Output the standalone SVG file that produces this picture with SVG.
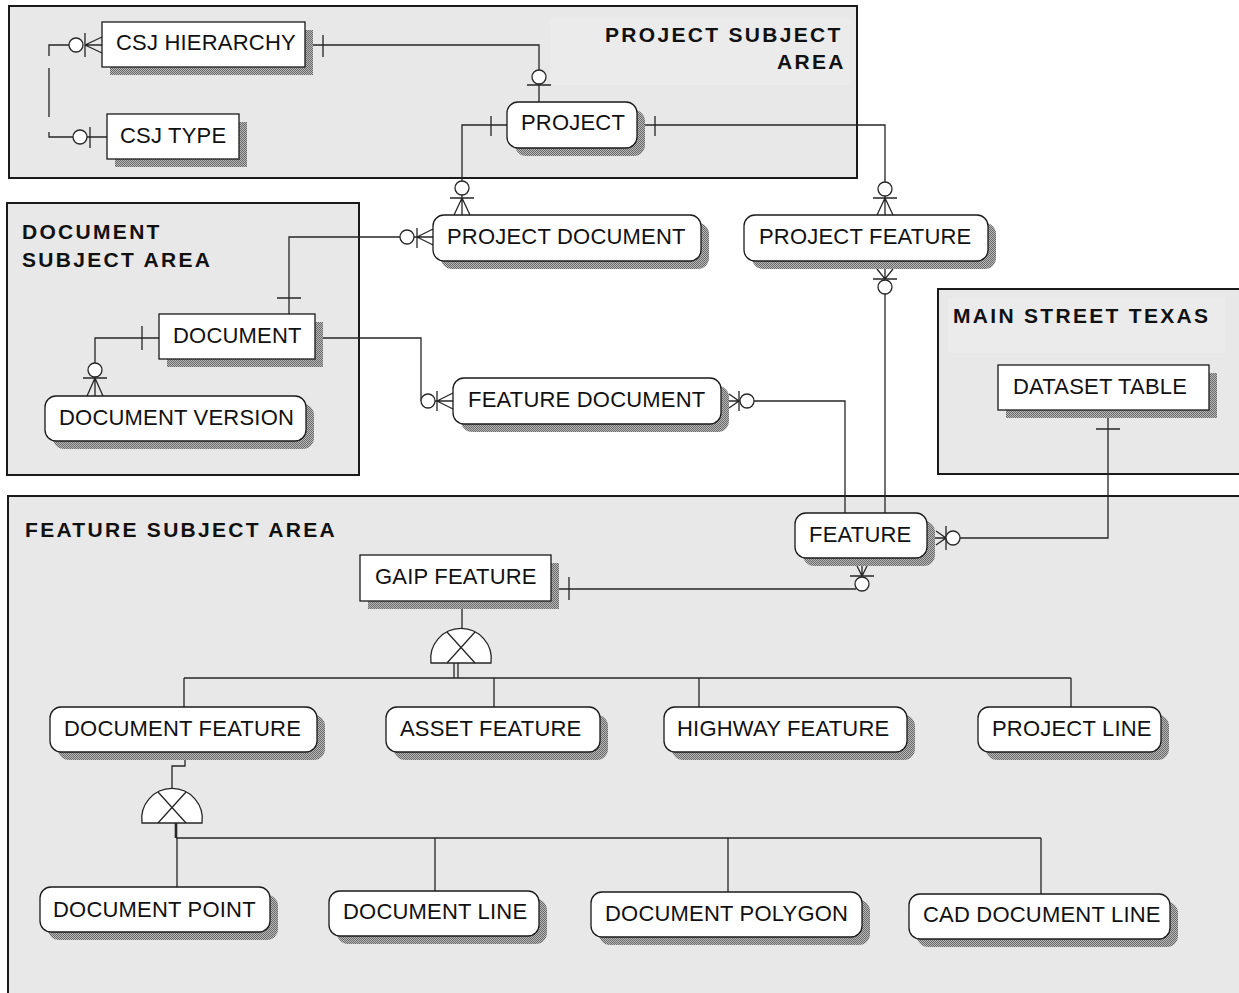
<svg xmlns="http://www.w3.org/2000/svg" width="1239" height="993" viewBox="0 0 1239 993">
  <defs>
    <!-- dotted drop shadow fill -->
    <pattern id="dither" width="2" height="2" patternUnits="userSpaceOnUse">
      <rect width="2" height="2" fill="#b8b8b8"/>
      <rect width="1" height="1" fill="#6a6a6a"/>
      <rect x="1" y="1" width="1" height="1" fill="#6a6a6a"/>
    </pattern>
    <style>
      .area { fill: #e8e8e8; stroke: #1a1a1a; stroke-width: 2; }
      .titlebg { fill: #ebebeb; stroke: none; }
      .title { font-family: "Liberation Sans", Arial, sans-serif; font-weight: bold; font-size: 21px; letter-spacing: 2.3px; fill: #111; }
      .shadow { fill: url(#dither); stroke: none; }
      .box { fill: #ffffff; stroke: #1a1a1a; stroke-width: 1.3; }
      .label { font-family: "Liberation Sans", Arial, sans-serif; font-size: 22px; letter-spacing: 0.2px; fill: #111; }
      .rel { fill: none; stroke: #262626; stroke-width: 1.3; }
      .opt { fill: #ffffff; stroke: #262626; stroke-width: 1.3; }
      .sub { fill: #ffffff; stroke: #262626; stroke-width: 1.3; }
    </style>
  </defs>

  <rect width="1239" height="993" fill="#ffffff"/>

  <!-- subject areas -->
  <g id="area-project">
    <rect class="area" x="9" y="6" width="848" height="172"/>
    <rect class="titlebg" x="550" y="18" width="300" height="67"/>
    <text class="title" x="605" y="42">PROJECT SUBJECT</text>
    <text class="title" x="777" y="69">AREA</text>
  </g>
  <g id="area-document">
    <rect class="area" x="7" y="203" width="352" height="272"/>
    <text class="title" x="22" y="239">DOCUMENT</text>
    <text class="title" x="22" y="267">SUBJECT AREA</text>
  </g>
  <g id="area-main-street">
    <rect class="area" x="938" y="289" width="310" height="185"/>
    <rect class="titlebg" x="948" y="298" width="277" height="55"/>
    <text class="title" x="953" y="323">MAIN STREET TEXAS</text>
  </g>
  <g id="area-feature">
    <rect class="area" x="8" y="496" width="1240" height="510"/>
    <text class="title" x="25" y="537">FEATURE SUBJECT AREA</text>
  </g>

  <!-- relationships and subtype clusters -->
  <g id="connectors">
    <!-- CSJ HIERARCHY - CSJ TYPE (non-identifying) -->
    <path class="rel" d="M69,45 H49 V56 M49,68 V117 M49,132 V137 H73 M87,137 H107"/>
    <path class="rel" d="M85,33 V57 M85,45 H102 M85,45 L102,37 M85,45 L102,53"/>
    <circle class="opt" cx="76" cy="45" r="7"/>
    <path class="rel" d="M90,127 V148"/>
    <circle class="opt" cx="80" cy="137" r="7"/>

    <!-- CSJ HIERARCHY - PROJECT -->
    <path class="rel" d="M305,45 H539 V70 M539,84 V102 M323,35 V57 M527,85 H551"/>
    <circle class="opt" cx="539" cy="77" r="7"/>

    <!-- PROJECT - PROJECT DOCUMENT -->
    <path class="rel" d="M507,125 H462 V181 M462,195 V215 M491,116 V136 M450,198 H474 M462,198 L454,215 M462,198 L470,215"/>
    <circle class="opt" cx="462" cy="188" r="7"/>

    <!-- PROJECT - PROJECT FEATURE -->
    <path class="rel" d="M637,125 H885 V182 M885,196 V215 M655,116 V136 M873,198 H897 M885,198 L877,215 M885,198 L893,215"/>
    <circle class="opt" cx="885" cy="189" r="7"/>

    <!-- DOCUMENT - PROJECT DOCUMENT -->
    <path class="rel" d="M289,314 V237 H400 M414,237 H433 M277,298 H301 M417,228 V248 M417,237 L433,229 M417,237 L433,245"/>
    <circle class="opt" cx="407" cy="237" r="7"/>

    <!-- DOCUMENT - DOCUMENT VERSION -->
    <path class="rel" d="M159,338 H95 V363 M95,377 V396 M142,326 V350 M83,378 H107 M95,378 L87,396 M95,378 L103,396"/>
    <circle class="opt" cx="95" cy="370" r="7"/>

    <!-- DOCUMENT - FEATURE DOCUMENT -->
    <path class="rel" d="M315,338 H421 V401 M435,401 H453 M437,391 V411 M437,401 L453,393 M437,401 L453,409"/>
    <circle class="opt" cx="428" cy="401" r="7"/>

    <!-- FEATURE DOCUMENT - FEATURE -->
    <path class="rel" d="M721,401 H739 M729,394 L739,401 L729,408 M739,391 V411 M754,401 H845 V513"/>
    <circle class="opt" cx="747" cy="401" r="7"/>

    <!-- PROJECT FEATURE - FEATURE -->
    <path class="rel" d="M885,261 V279 M877,269 L885,279 L893,269 M873,279 H897 M885,294 V513"/>
    <circle class="opt" cx="885" cy="287" r="7"/>

    <!-- DATASET TABLE - FEATURE -->
    <path class="rel" d="M1108,410 V538 H960 M1096,429 H1120 M927,538 H946 M936,531 L946,538 L936,545 M946,526 V550"/>
    <circle class="opt" cx="953" cy="538" r="7"/>

    <!-- GAIP FEATURE - FEATURE -->
    <path class="rel" d="M551,589 H856 M569,577 V600 M862,558 V576 M857,566 L862,576 L867,566 M850,576 H874"/>
    <circle class="opt" cx="862" cy="584" r="7"/>

    <!-- GAIP FEATURE subtype cluster -->
    <path class="rel" d="M462,601 V629"/>
    <path class="sub" d="M431,663 A30.3,30.3 0 1 1 491,663 Z"/>
    <path class="rel" d="M447,632 L475,663 M475,632 L447,663"/>
    <path class="rel" d="M454,663 V678 M458,663 V678"/>
    <path class="rel" d="M184,678 H1071 M184,678 V707 M494,678 V707 M699,678 V707 M1071,678 V707"/>

    <!-- DOCUMENT FEATURE subtype cluster -->
    <path class="rel" d="M185,752 V766 H172 V789"/>
    <path class="sub" d="M142,823 A30.3,30.3 0 1 1 202,823 Z"/>
    <path class="rel" d="M158,792 L186,823 M186,792 L158,823"/>
    <path class="rel" style="stroke-width:2.6" d="M176,823 V838"/>
    <path class="rel" style="stroke-width:1.6" d="M176,838 H1041"/>
    <path class="rel" d="M177,838 V887 M435,838 V891 M728,838 V892 M1041,838 V894"/>
  </g>

  <!-- entities -->
  <g id="csj-hierarchy">
    <rect class="shadow" x="110" y="30" width="203" height="45"/>
    <rect class="box" x="102" y="22" width="203" height="45"/>
    <text class="label" x="116" y="50">CSJ HIERARCHY</text>
  </g>
  <g id="csj-type">
    <rect class="shadow" x="115" y="122" width="132" height="45"/>
    <rect class="box" x="107" y="114" width="132" height="45"/>
    <text class="label" x="120" y="143">CSJ TYPE</text>
  </g>
  <g id="project">
    <rect class="shadow" x="515" y="110" width="130" height="46" rx="11"/>
    <rect class="box" x="507" y="102" width="130" height="46" rx="11"/>
    <text class="label" x="521" y="130">PROJECT</text>
  </g>
  <g id="project-document">
    <rect class="shadow" x="441" y="223" width="268" height="46" rx="11"/>
    <rect class="box" x="433" y="215" width="268" height="46" rx="11"/>
    <text class="label" x="447" y="244">PROJECT DOCUMENT</text>
  </g>
  <g id="project-feature">
    <rect class="shadow" x="752" y="223" width="244" height="46" rx="11"/>
    <rect class="box" x="744" y="215" width="244" height="46" rx="11"/>
    <text class="label" x="759" y="244">PROJECT FEATURE</text>
  </g>
  <g id="document">
    <rect class="shadow" x="167" y="322" width="156" height="45"/>
    <rect class="box" x="159" y="314" width="156" height="45"/>
    <text class="label" x="173" y="343">DOCUMENT</text>
  </g>
  <g id="document-version">
    <rect class="shadow" x="53" y="404" width="261" height="45" rx="11"/>
    <rect class="box" x="45" y="396" width="261" height="45" rx="11"/>
    <text class="label" x="59" y="425">DOCUMENT VERSION</text>
  </g>
  <g id="feature-document">
    <rect class="shadow" x="461" y="386" width="268" height="46" rx="11"/>
    <rect class="box" x="453" y="378" width="268" height="46" rx="11"/>
    <text class="label" x="468" y="407">FEATURE DOCUMENT</text>
  </g>
  <g id="dataset-table">
    <rect class="shadow" x="1006" y="373" width="211" height="45"/>
    <rect class="box" x="998" y="365" width="211" height="45"/>
    <text class="label" x="1013" y="394">DATASET TABLE</text>
  </g>
  <g id="feature">
    <rect class="shadow" x="803" y="521" width="132" height="45" rx="11"/>
    <rect class="box" x="795" y="513" width="132" height="45" rx="11"/>
    <text class="label" x="809" y="542">FEATURE</text>
  </g>
  <g id="gaip-feature">
    <rect class="shadow" x="368" y="563" width="191" height="46"/>
    <rect class="box" x="360" y="555" width="191" height="46"/>
    <text class="label" x="375" y="584">GAIP FEATURE</text>
  </g>
  <g id="document-feature">
    <rect class="shadow" x="58" y="715" width="267" height="45" rx="11"/>
    <rect class="box" x="50" y="707" width="267" height="45" rx="11"/>
    <text class="label" x="64" y="736">DOCUMENT FEATURE</text>
  </g>
  <g id="asset-feature">
    <rect class="shadow" x="394" y="715" width="214" height="45" rx="11"/>
    <rect class="box" x="386" y="707" width="214" height="45" rx="11"/>
    <text class="label" x="400" y="736">ASSET FEATURE</text>
  </g>
  <g id="highway-feature">
    <rect class="shadow" x="672" y="715" width="243" height="45" rx="11"/>
    <rect class="box" x="664" y="707" width="243" height="45" rx="11"/>
    <text class="label" x="677" y="736">HIGHWAY FEATURE</text>
  </g>
  <g id="project-line">
    <rect class="shadow" x="986" y="715" width="183" height="45" rx="11"/>
    <rect class="box" x="978" y="707" width="183" height="45" rx="11"/>
    <text class="label" x="992" y="736">PROJECT LINE</text>
  </g>
  <g id="document-point">
    <rect class="shadow" x="48" y="895" width="230" height="45" rx="11"/>
    <rect class="box" x="40" y="887" width="230" height="45" rx="11"/>
    <text class="label" x="53" y="917">DOCUMENT POINT</text>
  </g>
  <g id="document-line">
    <rect class="shadow" x="337" y="899" width="210" height="45" rx="11"/>
    <rect class="box" x="329" y="891" width="210" height="45" rx="11"/>
    <text class="label" x="343" y="919">DOCUMENT LINE</text>
  </g>
  <g id="document-polygon">
    <rect class="shadow" x="599" y="900" width="271" height="45" rx="11"/>
    <rect class="box" x="591" y="892" width="271" height="45" rx="11"/>
    <text class="label" x="605" y="921">DOCUMENT POLYGON</text>
  </g>
  <g id="cad-document-line">
    <rect class="shadow" x="917" y="902" width="261" height="45" rx="11"/>
    <rect class="box" x="909" y="894" width="261" height="45" rx="11"/>
    <text class="label" x="923" y="922">CAD DOCUMENT LINE</text>
  </g>
</svg>
